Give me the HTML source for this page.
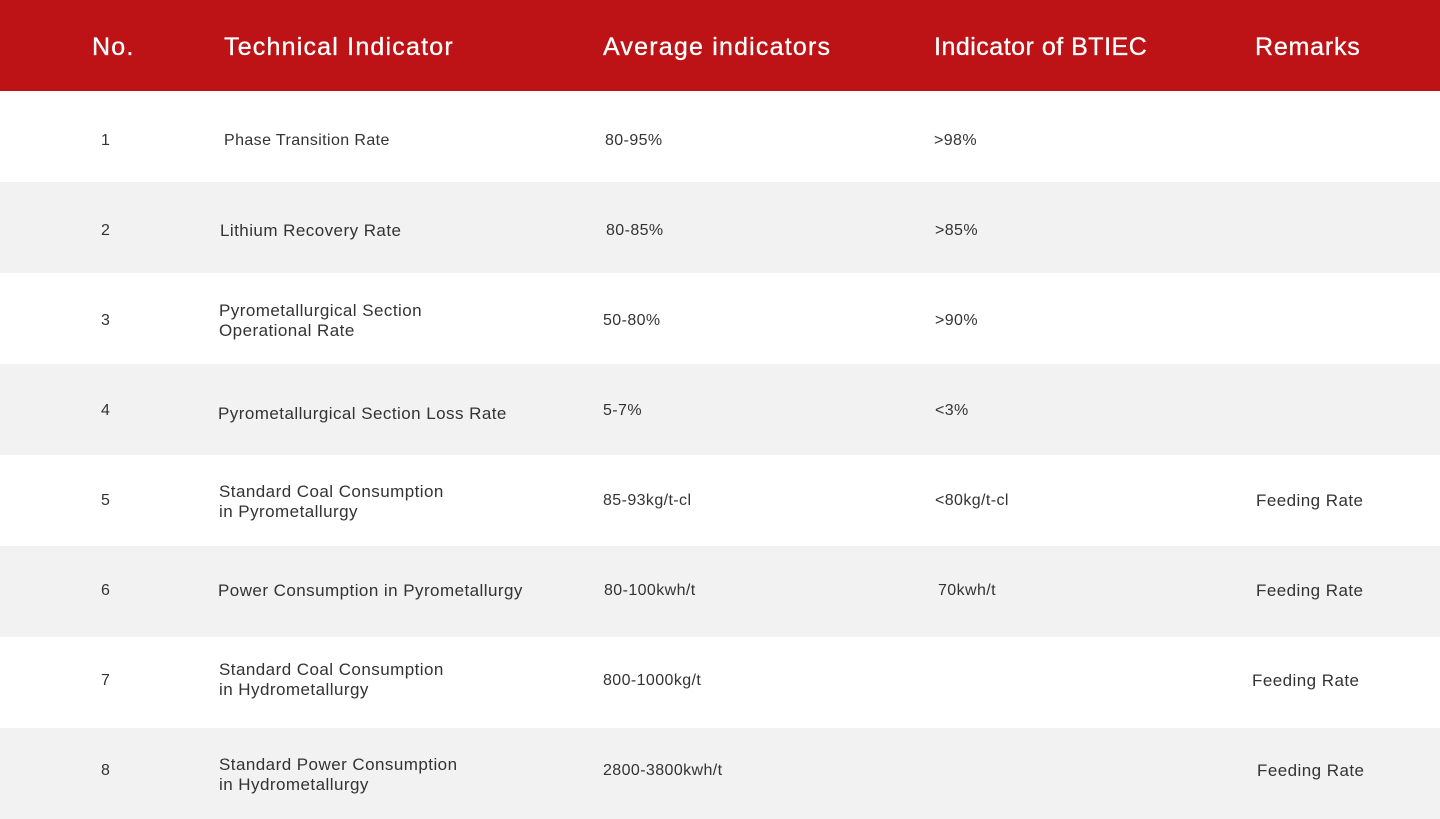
<!DOCTYPE html>
<html><head><meta charset="utf-8"><style>
body{margin:0;width:1440px;height:819px;position:relative;background:#fff;font-family:"Liberation Sans",sans-serif;overflow:hidden}
.hd{position:absolute;left:0;top:0;width:1440px;height:91px;background:#be1316}
.h{position:absolute;color:#fff;font-size:25px;letter-spacing:1.2px;line-height:28px;top:33px;white-space:nowrap;-webkit-text-stroke:0.3px #fff}
.r{position:absolute;left:0;width:1440px;height:91px}
.g{background:#f2f2f2}
.t{position:absolute;color:#333;font-size:16px;line-height:20px;white-space:nowrap;transform:translateY(-50%);margin-top:1px;letter-spacing:0.4px}
.p{font-size:17px;letter-spacing:0.45px}
</style></head><body>
<div class="hd"></div>
<div class="h" style="left:92px">No.</div>
<div class="h" style="left:224px">Technical Indicator</div>
<div class="h" style="left:603px">Average indicators</div>
<div class="h" style="left:934px;letter-spacing:0.5px">Indicator of BTIEC</div>
<div class="h" style="left:1255px;letter-spacing:0.8px">Remarks</div>
<div class="r g" style="top:182px"></div>
<div class="r g" style="top:364px"></div>
<div class="r g" style="top:546px"></div>
<div class="r g" style="top:728px"></div>

<div class="t" style="left:101px;top:140px">1</div>
<div class="t" style="left:224px;top:140px">Phase Transition Rate</div>
<div class="t" style="left:605px;top:140px">80-95%</div>
<div class="t" style="left:934px;top:140px">&gt;98%</div>

<div class="t" style="left:101px;top:230px">2</div>
<div class="t p" style="left:220px;top:230px">Lithium Recovery Rate</div>
<div class="t" style="left:606px;top:230px">80-85%</div>
<div class="t" style="left:935px;top:230px">&gt;85%</div>

<div class="t" style="left:101px;top:320px">3</div>
<div class="t p" style="left:219px;top:320px">Pyrometallurgical Section<br>Operational Rate</div>
<div class="t" style="left:603px;top:320px">50-80%</div>
<div class="t" style="left:935px;top:320px">&gt;90%</div>

<div class="t" style="left:101px;top:410px">4</div>
<div class="t p" style="left:218px;top:413px">Pyrometallurgical Section Loss Rate</div>
<div class="t" style="left:603px;top:410px">5-7%</div>
<div class="t" style="left:935px;top:410px">&lt;3%</div>

<div class="t" style="left:101px;top:500px">5</div>
<div class="t p" style="left:219px;top:501px">Standard Coal Consumption<br>in Pyrometallurgy</div>
<div class="t" style="left:603px;top:500px">85-93kg/t-cl</div>
<div class="t" style="left:935px;top:500px">&lt;80kg/t-cl</div>
<div class="t p" style="left:1256px;top:500px">Feeding Rate</div>

<div class="t" style="left:101px;top:590px">6</div>
<div class="t p" style="left:218px;top:590px">Power Consumption in Pyrometallurgy</div>
<div class="t" style="left:604px;top:590px">80-100kwh/t</div>
<div class="t" style="left:938px;top:590px">70kwh/t</div>
<div class="t p" style="left:1256px;top:590px">Feeding Rate</div>

<div class="t" style="left:101px;top:680px">7</div>
<div class="t p" style="left:219px;top:679px">Standard Coal Consumption<br>in Hydrometallurgy</div>
<div class="t" style="left:603px;top:680px">800-1000kg/t</div>
<div class="t p" style="left:1252px;top:680px">Feeding Rate</div>

<div class="t" style="left:101px;top:770px">8</div>
<div class="t p" style="left:219px;top:774px">Standard Power Consumption<br>in Hydrometallurgy</div>
<div class="t" style="left:603px;top:770px">2800-3800kwh/t</div>
<div class="t p" style="left:1257px;top:770px">Feeding Rate</div>
</body></html>
